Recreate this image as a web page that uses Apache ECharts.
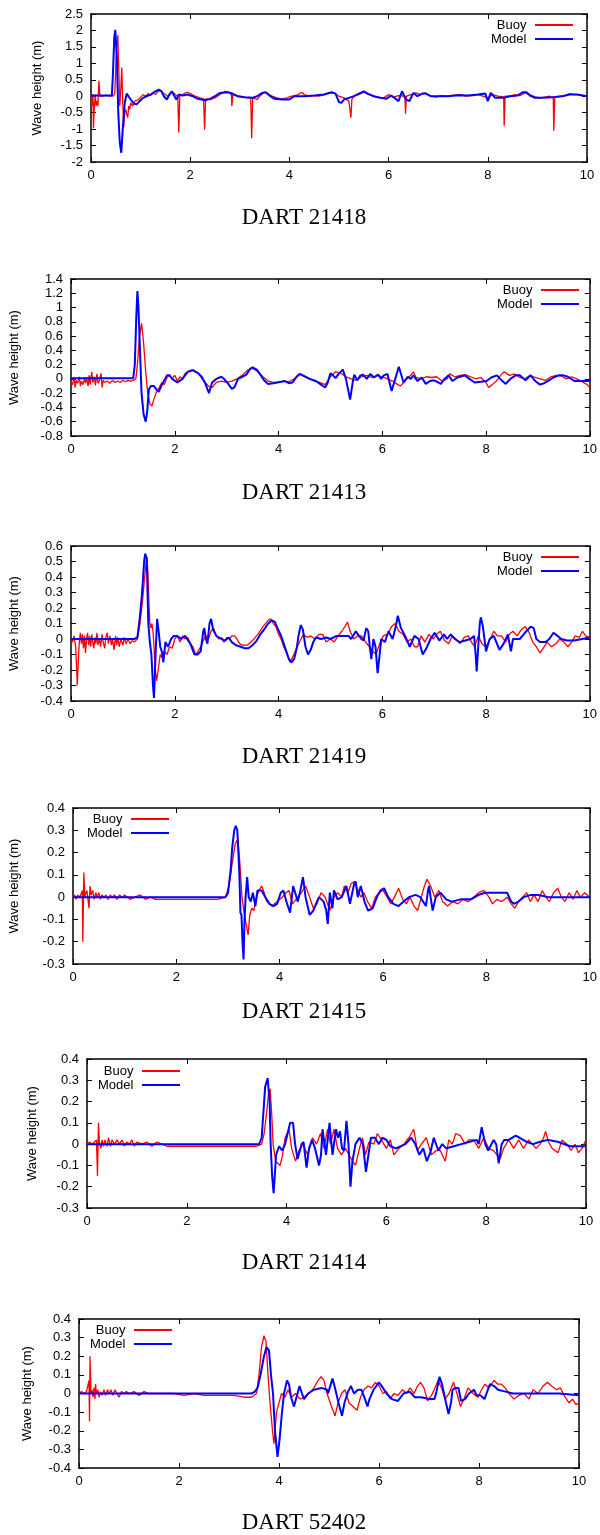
<!DOCTYPE html>
<html><head><meta charset="utf-8">
<script src="https://cdn.jsdelivr.net/npm/echarts@6/dist/echarts.min.js"></script>
<style>html,body{margin:0;padding:0;background:#fff}#c{width:600px;height:1535px}</style>
</head><body><div id="c"></div>
<script>
// ---------------- DATA (hours, wave height in m) ----------------
const panelTitles = ['DART 21418','DART 21413','DART 21419','DART 21415','DART 21414','DART 52402'];
const seriesNames = ['Buoy','Model'];
const xTickValues = [0,2,4,6,8,10];
// y axis: [min, max, interval]
const yRanges = [[-2,2.5,0.5],[-0.8,1.4,0.2],[-0.4,0.6,0.1],[-0.3,0.4,0.1],[-0.3,0.4,0.1],[-0.4,0.4,0.1]];

const buoy21418 = [[0,0.05],[0.02,-0.3],[0.04,0.05],[0.05,-0.97],[0.07,-0.2],[0.09,0.05],[0.1,-0.3],[0.12,-0.15],[0.14,-0.3],[0.16,0.47],[0.18,0.0],[0.2,0.05],[0.25,0.0],[0.3,0.03],[0.35,0.0],[0.4,0.02],[0.45,0.0],[0.48,0.1],[0.5,0.9],[0.52,1.6],[0.54,1.85],[0.56,0.8],[0.58,-0.3],[0.6,0.2],[0.62,0.87],[0.64,-0.2],[0.66,-0.93],[0.68,-0.5],[0.7,-0.4],[0.72,-0.55],[0.74,-0.65],[0.76,-0.3],[0.78,-0.4],[0.8,-0.2],[0.84,-0.3],[0.88,-0.15],[0.92,-0.2],[0.96,-0.1],[1.0,-0.05],[1.05,0.05],[1.1,0.0],[1.15,0.08],[1.2,0.02],[1.25,0.1],[1.3,0.05],[1.35,0.15],[1.4,0.18],[1.45,0.1],[1.5,0.05],[1.55,0.0],[1.6,0.1],[1.65,0.12],[1.7,0.05],[1.75,0.0],[1.77,-1.1],[1.79,0.0],[1.85,0.05],[1.9,0.1],[1.95,0.12],[2.0,0.08],[2.1,0.0],[2.2,-0.05],[2.27,-0.08],[2.29,-1.02],[2.31,-0.08],[2.4,-0.1],[2.5,-0.05],[2.6,0.05],[2.7,0.15],[2.78,0.12],[2.83,0.05],[2.84,-0.3],[2.86,0.05],[2.95,0.02],[3.05,-0.02],[3.15,-0.05],[3.22,-0.05],[3.24,-1.28],[3.26,-0.05],[3.3,-0.05],[3.35,-0.1],[3.4,0.0],[3.5,0.12],[3.55,0.1],[3.65,0.0],[3.75,-0.05],[3.85,-0.08],[3.95,-0.05],[4.05,0.0],[4.15,0.03],[4.25,0.12],[4.3,0.05],[4.4,0.0],[4.5,0.02],[4.6,0.0],[4.7,0.05],[4.8,0.1],[4.9,0.1],[5.0,0.0],[5.1,-0.05],[5.2,-0.15],[5.23,-0.2],[5.24,-0.65],[5.26,-0.1],[5.3,0.0],[5.4,0.05],[5.5,0.12],[5.6,0.05],[5.7,0.0],[5.8,-0.05],[5.9,-0.05],[6.0,0.05],[6.1,-0.03],[6.2,0.02],[6.33,0.0],[6.34,-0.53],[6.36,0.0],[6.45,0.05],[6.55,0.1],[6.65,0.05],[6.75,0.1],[6.85,0.0],[6.95,-0.03],[7.05,0.02],[7.2,0.0],[7.3,0.03],[7.45,0.05],[7.55,0.0],[7.7,0.02],[7.8,0.05],[7.9,0.0],[8.0,-0.05],[8.1,0.05],[8.2,0.0],[8.32,-0.02],[8.33,-0.9],[8.35,0.0],[8.45,0.0],[8.55,0.05],[8.65,0.02],[8.75,0.1],[8.85,0.05],[8.95,-0.02],[9.05,-0.05],[9.15,-0.03],[9.25,0.0],[9.32,-0.05],[9.33,-1.05],[9.35,-0.05],[9.45,0.0],[9.55,0.02],[9.65,0.08],[9.75,0.05],[9.85,0.05],[9.95,0.0],[10,0.02]];
const model21418 = [[0,0.02],[0.42,0.02],[0.44,0.6],[0.47,1.8],[0.49,2.02],[0.52,1.2],[0.55,-0.5],[0.58,-1.4],[0.61,-1.72],[0.64,-1.0],[0.68,-0.2],[0.72,0.08],[0.75,0.08],[0.8,-0.1],[0.86,-0.22],[0.92,-0.25],[0.98,-0.15],[1.05,-0.05],[1.12,0.0],[1.2,0.05],[1.3,0.15],[1.37,0.2],[1.42,0.15],[1.47,0.0],[1.53,-0.1],[1.58,0.05],[1.63,0.15],[1.67,0.12],[1.72,-0.1],[1.77,0.05],[1.85,0.02],[1.95,0.05],[2.05,0.0],[2.15,-0.08],[2.3,-0.12],[2.4,-0.08],[2.5,0.0],[2.6,0.1],[2.75,0.12],[2.85,0.08],[2.95,0.0],[3.1,-0.03],[3.25,-0.05],[3.35,0.0],[3.45,0.1],[3.52,0.12],[3.6,0.02],[3.7,-0.08],[3.85,-0.1],[4.0,-0.1],[4.1,0.0],[4.3,0.0],[4.5,0.02],[4.7,0.05],[4.85,0.12],[4.93,0.08],[5.0,-0.18],[5.05,-0.2],[5.1,-0.1],[5.2,-0.05],[5.3,0.0],[5.4,0.08],[5.5,0.15],[5.58,0.08],[5.7,0.0],[5.85,-0.05],[5.95,-0.08],[6.05,0.02],[6.12,-0.05],[6.2,-0.15],[6.27,0.15],[6.3,0.15],[6.35,-0.1],[6.42,-0.15],[6.5,0.1],[6.58,0.0],[6.68,0.08],[6.75,0.08],[6.85,0.0],[7.0,0.0],[7.2,0.0],[7.4,0.03],[7.6,0.02],[7.8,0.05],[7.95,0.08],[8.0,-0.15],[8.03,-0.15],[8.06,0.1],[8.1,0.1],[8.15,-0.05],[8.3,-0.05],[8.45,0.0],[8.6,0.02],[8.7,0.12],[8.78,0.12],[8.85,0.02],[8.95,-0.05],[9.1,-0.05],[9.3,-0.03],[9.5,0.0],[9.65,0.05],[9.8,0.05],[10,0.0]];

const buoy21413 = [[0,-0.03],[0.03,-0.08],[0.06,0.02],[0.08,-0.12],[0.1,-0.02],[0.13,-0.06],[0.16,0.03],[0.18,-0.1],[0.2,-0.03],[0.23,-0.08],[0.26,0.0],[0.28,-0.06],[0.3,0.02],[0.33,-0.1],[0.35,0.05],[0.37,-0.08],[0.4,0.1],[0.42,-0.05],[0.45,0.03],[0.47,-0.09],[0.5,0.07],[0.52,-0.06],[0.55,-0.02],[0.58,0.08],[0.6,-0.12],[0.62,-0.02],[0.65,-0.05],[0.7,-0.03],[0.75,-0.06],[0.8,-0.02],[0.85,-0.05],[0.9,-0.03],[0.95,-0.05],[1.0,-0.02],[1.05,-0.04],[1.1,-0.02],[1.15,-0.03],[1.2,-0.02],[1.25,0.0],[1.28,0.2],[1.32,0.6],[1.36,0.78],[1.4,0.5],[1.44,0.1],[1.48,-0.2],[1.52,-0.35],[1.56,-0.38],[1.6,-0.28],[1.65,-0.18],[1.7,-0.12],[1.75,-0.05],[1.8,-0.08],[1.85,0.02],[1.9,0.05],[1.95,0.0],[2.0,0.05],[2.05,-0.03],[2.1,0.03],[2.15,0.0],[2.2,0.08],[2.3,0.12],[2.35,0.13],[2.45,0.08],[2.55,-0.02],[2.65,-0.1],[2.72,-0.12],[2.8,-0.05],[2.9,-0.03],[3.0,-0.05],[3.1,-0.03],[3.2,0.0],[3.3,0.05],[3.4,0.12],[3.5,0.15],[3.6,0.1],[3.7,0.03],[3.8,-0.03],[3.9,-0.05],[4.0,-0.05],[4.1,-0.03],[4.2,-0.04],[4.3,0.0],[4.4,0.07],[4.5,0.03],[4.6,0.0],[4.7,-0.03],[4.8,-0.05],[4.9,-0.08],[5.0,0.03],[5.1,0.1],[5.2,0.08],[5.3,0.03],[5.4,0.0],[5.5,-0.02],[5.6,0.03],[5.7,0.05],[5.8,0.02],[5.9,0.05],[6.0,0.03],[6.1,0.0],[6.2,-0.03],[6.3,-0.08],[6.35,-0.1],[6.45,-0.02],[6.55,0.05],[6.6,0.1],[6.65,0.02],[6.75,0.0],[6.85,0.03],[6.95,0.02],[7.05,0.03],[7.15,-0.03],[7.25,0.0],[7.3,0.07],[7.4,0.03],[7.5,0.05],[7.6,0.06],[7.7,0.03],[7.8,0.0],[7.9,0.02],[8.0,-0.05],[8.05,-0.12],[8.12,-0.08],[8.2,-0.03],[8.28,0.05],[8.35,0.1],[8.45,0.05],[8.55,0.07],[8.65,0.02],[8.75,0.0],[8.85,0.05],[8.95,0.02],[9.05,0.0],[9.15,-0.02],[9.25,0.03],[9.35,0.05],[9.45,0.04],[9.55,0.0],[9.65,0.03],[9.75,0.0],[9.85,-0.04],[9.95,-0.08],[10,-0.12]];
const model21413 = [[0,0.01],[1.2,0.01],[1.23,0.2],[1.26,0.9],[1.28,1.23],[1.3,1.0],[1.33,0.4],[1.36,-0.2],[1.4,-0.5],[1.44,-0.6],[1.47,-0.45],[1.5,-0.15],[1.54,-0.1],[1.6,-0.1],[1.65,-0.15],[1.69,-0.18],[1.74,-0.1],[1.8,-0.02],[1.85,0.05],[1.9,0.05],[1.95,0.0],[2.05,-0.05],[2.15,0.0],[2.25,0.1],[2.35,0.12],[2.45,0.08],[2.52,0.03],[2.58,-0.05],[2.66,-0.2],[2.72,-0.05],[2.8,0.0],[2.9,0.03],[2.95,0.0],[3.02,-0.06],[3.1,-0.14],[3.15,-0.12],[3.22,0.0],[3.3,0.03],[3.38,0.06],[3.45,0.14],[3.5,0.16],[3.58,0.13],[3.65,0.06],[3.72,-0.02],[3.8,-0.07],[3.9,-0.06],[3.97,-0.05],[4.05,-0.04],[4.12,-0.03],[4.2,-0.06],[4.27,-0.05],[4.35,0.03],[4.41,0.07],[4.5,0.04],[4.6,0.0],[4.72,-0.03],[4.82,-0.08],[4.9,-0.12],[4.95,-0.05],[5.0,0.08],[5.05,0.05],[5.1,0.01],[5.17,0.08],[5.24,0.13],[5.3,0.0],[5.38,-0.29],[5.43,-0.05],[5.46,0.06],[5.52,-0.02],[5.58,0.05],[5.63,0.06],[5.7,0.0],[5.77,0.07],[5.84,0.02],[5.92,0.06],[5.98,0.0],[6.03,0.05],[6.1,0.07],[6.18,-0.17],[6.25,0.0],[6.32,0.17],[6.41,-0.05],[6.49,0.03],[6.55,0.0],[6.6,0.05],[6.68,-0.03],[6.76,0.02],[6.84,-0.07],[6.92,-0.03],[6.99,-0.02],[7.06,-0.04],[7.13,-0.07],[7.2,0.0],[7.28,0.05],[7.35,-0.03],[7.45,0.02],[7.59,0.05],[7.68,0.0],[7.78,-0.05],[7.9,-0.04],[8.01,-0.03],[8.1,0.02],[8.21,0.05],[8.3,-0.02],[8.38,-0.07],[8.47,0.0],[8.57,0.05],[8.65,0.05],[8.76,-0.02],[8.86,0.05],[8.95,-0.03],[9.04,-0.08],[9.12,-0.06],[9.19,-0.03],[9.3,0.02],[9.4,0.05],[9.49,0.05],[9.58,0.03],[9.71,-0.03],[9.85,-0.03],[10,-0.03]];

const buoy21419 = [[0,0.0],[0.03,-0.02],[0.06,0.02],[0.09,-0.05],[0.11,-0.2],[0.12,-0.3],[0.14,-0.15],[0.16,-0.02],[0.18,0.04],[0.2,-0.03],[0.22,0.03],[0.24,-0.06],[0.26,0.02],[0.28,-0.09],[0.3,0.0],[0.32,0.04],[0.34,-0.04],[0.36,0.02],[0.38,-0.05],[0.4,0.03],[0.42,-0.02],[0.44,-0.06],[0.46,0.01],[0.48,-0.03],[0.5,0.04],[0.52,-0.04],[0.55,0.0],[0.57,-0.05],[0.6,0.03],[0.62,-0.02],[0.65,-0.06],[0.67,0.01],[0.7,0.04],[0.72,-0.03],[0.75,0.02],[0.78,-0.04],[0.8,0.0],[0.83,-0.07],[0.86,0.02],[0.88,-0.04],[0.9,0.01],[0.93,-0.05],[0.96,0.0],[1.0,-0.04],[1.03,0.01],[1.06,-0.03],[1.1,0.0],[1.14,-0.03],[1.18,-0.01],[1.22,-0.02],[1.28,0.0],[1.33,0.1],[1.38,0.25],[1.42,0.4],[1.46,0.53],[1.48,0.45],[1.5,0.25],[1.52,0.1],[1.54,0.07],[1.56,0.1],[1.58,0.05],[1.6,-0.05],[1.62,-0.18],[1.65,-0.27],[1.68,-0.2],[1.72,-0.1],[1.76,-0.12],[1.8,-0.08],[1.85,-0.1],[1.9,-0.05],[1.95,-0.06],[2.0,0.0],[2.05,0.02],[2.1,-0.02],[2.15,0.02],[2.2,0.0],[2.25,0.01],[2.3,-0.03],[2.35,-0.05],[2.4,-0.1],[2.45,-0.08],[2.5,-0.05],[2.55,-0.01],[2.6,0.02],[2.65,0.0],[2.7,0.05],[2.75,0.07],[2.8,0.02],[2.85,0.0],[2.9,0.01],[2.95,-0.02],[3.0,0.01],[3.05,0.0],[3.1,0.02],[3.15,0.02],[3.2,0.0],[3.25,-0.03],[3.3,-0.04],[3.4,-0.04],[3.5,-0.01],[3.6,0.03],[3.7,0.08],[3.8,0.12],[3.85,0.13],[3.9,0.1],[3.95,0.08],[4.0,0.03],[4.05,0.0],[4.1,-0.05],[4.17,-0.1],[4.22,-0.15],[4.27,-0.12],[4.35,-0.06],[4.42,-0.01],[4.48,0.03],[4.55,0.01],[4.62,0.02],[4.7,0.0],[4.78,0.03],[4.85,0.03],[4.92,-0.02],[5.0,0.0],[5.07,-0.02],[5.15,0.02],[5.22,0.05],[5.28,0.08],[5.33,0.11],[5.38,0.05],[5.45,0.0],[5.52,0.02],[5.6,0.02],[5.68,-0.02],[5.75,-0.05],[5.82,-0.08],[5.88,-0.1],[5.95,-0.03],[6.02,0.02],[6.1,0.03],[6.18,0.08],[6.25,0.1],[6.32,0.05],[6.4,0.03],[6.48,-0.02],[6.55,0.0],[6.62,-0.05],[6.68,-0.05],[6.75,0.02],[6.82,-0.02],[6.9,0.03],[6.98,0.0],[7.05,0.03],[7.12,0.05],[7.2,-0.01],[7.28,-0.03],[7.35,0.02],[7.42,0.0],[7.5,-0.03],[7.58,0.01],[7.66,0.02],[7.72,-0.02],[7.78,-0.05],[7.85,0.02],[7.92,-0.03],[8.0,-0.05],[8.08,0.0],[8.15,0.05],[8.22,0.02],[8.3,0.02],[8.38,-0.02],[8.45,0.03],[8.52,0.05],[8.6,0.02],[8.68,0.06],[8.75,0.08],[8.82,0.05],[8.9,-0.02],[8.97,-0.05],[9.04,-0.09],[9.1,-0.06],[9.18,-0.02],[9.26,-0.05],[9.35,-0.03],[9.42,0.0],[9.5,-0.02],[9.58,-0.05],[9.65,-0.02],[9.72,0.02],[9.8,0.01],[9.86,0.05],[9.92,0.02],[10,0.01]];
const model21419 = [[0,0.0],[1.22,0.0],[1.28,0.01],[1.33,0.15],[1.37,0.3],[1.41,0.5],[1.43,0.55],[1.46,0.52],[1.49,0.1],[1.52,-0.02],[1.55,-0.1],[1.58,-0.3],[1.6,-0.38],[1.63,-0.1],[1.66,0.13],[1.69,0.05],[1.72,-0.05],[1.75,-0.08],[1.78,-0.15],[1.82,-0.02],[1.87,-0.05],[1.93,0.0],[1.98,0.02],[2.05,0.02],[2.12,0.0],[2.2,0.02],[2.3,-0.03],[2.38,-0.1],[2.44,-0.1],[2.5,-0.08],[2.55,0.05],[2.57,0.07],[2.6,0.0],[2.63,-0.03],[2.67,0.1],[2.7,0.13],[2.74,0.06],[2.8,0.02],[2.9,0.0],[2.97,-0.01],[3.04,0.01],[3.1,-0.02],[3.18,-0.04],[3.27,-0.05],[3.35,-0.06],[3.42,-0.06],[3.5,-0.04],[3.58,-0.01],[3.65,0.03],[3.72,0.06],[3.8,0.1],[3.87,0.12],[3.93,0.11],[3.98,0.07],[4.05,0.02],[4.1,-0.03],[4.15,-0.08],[4.2,-0.13],[4.25,-0.15],[4.3,-0.13],[4.35,-0.06],[4.39,0.03],[4.43,0.09],[4.47,0.06],[4.52,-0.05],[4.57,-0.1],[4.62,-0.07],[4.67,-0.02],[4.72,0.01],[4.82,0.0],[4.92,0.01],[5.0,0.0],[5.12,0.02],[5.25,0.02],[5.35,0.02],[5.4,0.0],[5.49,0.05],[5.55,0.02],[5.6,0.0],[5.64,-0.01],[5.69,0.07],[5.73,0.05],[5.76,-0.05],[5.79,-0.13],[5.83,0.0],[5.87,-0.05],[5.91,-0.22],[5.95,-0.1],[5.98,0.0],[6.05,-0.02],[6.12,0.05],[6.2,0.0],[6.26,0.08],[6.3,0.15],[6.36,0.07],[6.44,0.02],[6.53,-0.05],[6.62,0.02],[6.7,0.0],[6.78,-0.1],[6.85,-0.06],[6.93,0.0],[7.01,0.04],[7.1,-0.01],[7.19,0.03],[7.25,0.0],[7.32,0.03],[7.4,0.0],[7.49,-0.02],[7.6,-0.01],[7.7,0.0],[7.77,0.02],[7.8,-0.1],[7.82,-0.21],[7.85,-0.05],[7.88,0.1],[7.9,0.14],[7.94,0.08],[8.0,-0.08],[8.07,0.0],[8.15,0.02],[8.26,-0.07],[8.34,-0.03],[8.42,0.03],[8.48,-0.08],[8.52,0.0],[8.65,0.0],[8.75,0.04],[8.86,0.08],[8.92,0.07],[8.97,0.0],[9.04,-0.02],[9.15,-0.02],[9.22,0.0],[9.3,0.04],[9.38,0.02],[9.45,0.0],[9.56,-0.01],[9.7,-0.01],[9.85,0.0],[10,0.01]];

const buoy21415 = [[0,0.0],[0.03,0.01],[0.06,-0.01],[0.09,0.01],[0.12,0.0],[0.15,0.01],[0.18,0.03],[0.19,-0.2],[0.21,0.11],[0.23,0.0],[0.25,0.02],[0.27,0.03],[0.29,-0.01],[0.31,-0.05],[0.33,0.05],[0.35,0.01],[0.38,0.03],[0.41,-0.01],[0.44,0.02],[0.47,0.0],[0.5,0.02],[0.53,-0.01],[0.56,0.01],[0.6,0.0],[0.64,0.01],[0.68,-0.01],[0.72,0.01],[0.76,0.0],[0.8,0.01],[0.85,-0.01],[0.9,0.01],[0.95,0.0],[1.0,0.01],[1.1,-0.01],[1.2,0.0],[1.3,0.01],[1.4,-0.01],[1.5,0.0],[1.6,-0.01],[1.8,-0.01],[2.0,-0.01],[2.2,-0.01],[2.4,-0.01],[2.6,-0.01],[2.8,-0.01],[2.95,0.0],[3.02,0.05],[3.08,0.15],[3.14,0.24],[3.19,0.26],[3.23,0.15],[3.27,0.0],[3.31,-0.07],[3.35,-0.12],[3.39,-0.17],[3.42,-0.08],[3.46,-0.05],[3.5,-0.06],[3.55,0.0],[3.6,0.03],[3.65,0.05],[3.7,0.02],[3.75,-0.02],[3.85,-0.04],[3.95,-0.02],[4.05,0.0],[4.12,0.02],[4.18,0.03],[4.25,-0.03],[4.35,0.0],[4.42,0.02],[4.5,0.05],[4.58,0.0],[4.65,-0.05],[4.72,-0.03],[4.8,0.02],[4.88,0.0],[4.97,-0.06],[5.05,0.0],[5.12,0.02],[5.2,0.0],[5.25,0.05],[5.32,0.02],[5.38,0.06],[5.44,0.07],[5.5,0.04],[5.57,0.0],[5.63,0.02],[5.7,-0.02],[5.78,-0.05],[5.85,0.0],[5.92,0.02],[6.0,0.03],[6.08,0.0],[6.15,-0.03],[6.22,0.0],[6.3,0.04],[6.38,-0.01],[6.45,-0.03],[6.52,0.0],[6.6,-0.04],[6.67,-0.06],[6.74,0.0],[6.8,0.05],[6.85,0.08],[6.92,0.05],[7.0,0.0],[7.08,0.03],[7.15,-0.02],[7.25,-0.04],[7.35,-0.02],[7.45,-0.03],[7.55,-0.01],[7.65,-0.02],[7.75,0.0],[7.85,0.02],[7.95,0.03],[8.05,0.0],[8.12,-0.03],[8.2,-0.01],[8.3,-0.02],[8.4,0.0],[8.48,-0.03],[8.55,-0.05],[8.62,-0.02],[8.7,0.0],[8.78,0.02],[8.85,-0.02],[8.92,0.01],[9.0,-0.02],[9.08,0.03],[9.15,0.0],[9.22,-0.02],[9.3,0.02],[9.38,0.04],[9.45,0.0],[9.52,-0.02],[9.6,0.02],[9.68,-0.01],[9.75,0.03],[9.82,0.0],[9.9,0.02],[10,0.0]];
const model21415 = [[0,0.0],[2.95,0.0],[3.0,0.02],[3.05,0.12],[3.08,0.22],[3.12,0.3],[3.15,0.32],[3.18,0.3],[3.2,0.2],[3.22,0.1],[3.24,-0.07],[3.26,-0.08],[3.28,-0.2],[3.3,-0.28],[3.32,-0.1],[3.34,0.0],[3.37,0.09],[3.4,0.0],[3.44,-0.02],[3.48,0.02],[3.53,-0.04],[3.57,0.03],[3.65,0.03],[3.72,0.0],[3.8,-0.03],[3.88,-0.04],[3.95,-0.03],[4.02,0.02],[4.07,0.03],[4.13,-0.02],[4.2,-0.07],[4.26,0.05],[4.3,0.02],[4.35,-0.02],[4.4,0.03],[4.45,0.09],[4.5,0.0],[4.58,-0.08],[4.65,-0.06],[4.72,-0.02],[4.76,0.0],[4.85,-0.02],[4.9,-0.06],[4.93,-0.12],[4.97,0.02],[5.02,-0.05],[5.05,0.03],[5.12,-0.01],[5.2,0.0],[5.29,0.05],[5.36,-0.03],[5.44,0.06],[5.47,0.07],[5.51,0.0],[5.57,0.05],[5.64,-0.02],[5.71,-0.06],[5.8,-0.05],[5.88,0.0],[5.95,0.03],[6.02,0.04],[6.1,0.0],[6.2,-0.03],[6.3,-0.04],[6.4,-0.02],[6.5,0.0],[6.63,0.01],[6.72,0.0],[6.83,-0.04],[6.87,0.03],[6.89,0.05],[6.92,0.0],[6.96,-0.06],[7.02,0.0],[7.11,0.02],[7.22,-0.01],[7.33,-0.02],[7.5,-0.01],[7.7,-0.01],[7.85,0.01],[7.97,0.02],[8.15,0.02],[8.3,0.02],[8.4,0.02],[8.48,-0.02],[8.53,-0.03],[8.62,-0.02],[8.72,0.0],[8.86,0.01],[9.0,0.01],[9.2,0.0],[9.5,0.0],[10,0.0]];

const buoy21414 = [[0,0.0],[0.05,0.01],[0.1,0.0],[0.15,0.01],[0.19,0.02],[0.21,-0.15],[0.23,0.1],[0.25,0.0],[0.28,-0.02],[0.3,0.02],[0.33,-0.01],[0.36,0.02],[0.4,-0.01],[0.43,0.03],[0.47,-0.01],[0.5,0.02],[0.55,0.0],[0.6,0.02],[0.65,0.0],[0.7,0.02],[0.75,-0.01],[0.8,0.01],[0.85,0.0],[0.9,0.02],[0.95,-0.01],[1.0,0.01],[1.1,0.0],[1.2,0.01],[1.3,-0.01],[1.4,0.01],[1.5,0.0],[1.6,-0.01],[1.8,-0.01],[2.0,-0.01],[2.2,-0.01],[2.4,-0.01],[2.6,-0.01],[2.8,-0.01],[3.0,-0.01],[3.2,-0.01],[3.4,-0.01],[3.5,0.0],[3.55,0.05],[3.6,0.15],[3.64,0.24],[3.67,0.26],[3.7,0.15],[3.73,0.0],[3.78,-0.08],[3.82,-0.08],[3.87,-0.1],[3.92,-0.05],[3.97,0.03],[4.05,0.07],[4.1,-0.02],[4.18,-0.08],[4.25,-0.03],[4.33,0.0],[4.42,-0.05],[4.52,0.03],[4.6,0.0],[4.68,0.05],[4.75,-0.02],[4.82,0.07],[4.88,0.0],[4.95,0.07],[5.02,-0.02],[5.1,-0.05],[5.18,-0.02],[5.25,-0.05],[5.32,-0.08],[5.38,-0.1],[5.45,-0.03],[5.52,0.03],[5.58,-0.05],[5.65,0.01],[5.75,0.0],[5.82,0.05],[5.9,0.02],[6.0,-0.02],[6.08,0.02],[6.15,-0.05],[6.25,-0.02],[6.35,0.0],[6.45,0.03],[6.55,0.07],[6.62,-0.03],[6.7,0.0],[6.8,0.03],[6.9,-0.05],[7.0,-0.03],[7.08,-0.03],[7.18,-0.08],[7.25,0.02],[7.32,0.0],[7.39,0.05],[7.48,0.04],[7.58,0.0],[7.65,0.02],[7.75,0.02],[7.85,-0.02],[7.95,0.03],[8.05,-0.02],[8.15,-0.03],[8.28,-0.07],[8.35,-0.02],[8.45,0.02],[8.55,-0.02],[8.65,0.02],[8.75,-0.02],[8.85,0.02],[9.0,-0.02],[9.08,0.0],[9.15,0.03],[9.19,0.06],[9.25,0.01],[9.32,-0.02],[9.44,-0.04],[9.52,0.02],[9.62,0.0],[9.7,-0.03],[9.78,0.0],[9.85,-0.04],[9.92,-0.02],[10,0.02]];
const model21414 = [[0,0.0],[3.45,0.0],[3.5,0.03],[3.55,0.2],[3.57,0.27],[3.62,0.31],[3.66,0.2],[3.68,0.0],[3.71,-0.15],[3.74,-0.23],[3.79,-0.05],[3.85,-0.01],[3.91,-0.03],[3.97,0.0],[4.02,0.05],[4.07,0.1],[4.13,0.1],[4.17,0.0],[4.22,-0.07],[4.3,0.0],[4.34,0.01],[4.4,-0.11],[4.45,-0.02],[4.51,0.02],[4.57,-0.02],[4.65,-0.1],[4.69,-0.05],[4.72,0.07],[4.76,0.0],[4.79,-0.05],[4.86,0.1],[4.92,-0.05],[4.99,0.07],[5.03,0.03],[5.07,0.06],[5.11,-0.02],[5.15,-0.03],[5.2,0.11],[5.24,0.0],[5.28,-0.2],[5.32,-0.08],[5.38,0.0],[5.46,0.03],[5.53,0.0],[5.59,-0.13],[5.64,-0.05],[5.69,0.03],[5.77,0.03],[5.85,0.0],[5.92,0.03],[6.0,0.02],[6.08,-0.01],[6.19,-0.02],[6.38,0.0],[6.5,0.03],[6.58,0.0],[6.66,-0.05],[6.74,-0.02],[6.81,-0.08],[6.88,-0.04],[6.95,0.03],[7.04,-0.03],[7.12,0.0],[7.2,-0.02],[7.35,-0.01],[7.5,0.0],[7.65,0.01],[7.81,0.02],[7.85,0.0],[7.91,0.08],[7.98,0.0],[8.04,-0.03],[8.15,0.02],[8.2,0.0],[8.25,-0.09],[8.31,0.0],[8.36,0.02],[8.45,0.02],[8.59,0.04],[8.67,0.03],[8.82,0.01],[8.94,0.0],[9.06,0.01],[9.24,0.02],[9.45,0.01],[9.68,-0.01],[10,-0.01]];

const buoy52402 = [[0,0.0],[0.05,0.01],[0.1,0.0],[0.15,0.01],[0.19,0.0],[0.2,0.07],[0.21,-0.15],[0.22,0.2],[0.24,0.0],[0.26,0.02],[0.28,-0.02],[0.3,0.03],[0.32,-0.03],[0.33,0.05],[0.35,0.0],[0.38,0.02],[0.4,-0.02],[0.43,0.01],[0.46,-0.01],[0.5,0.02],[0.53,-0.01],[0.57,0.02],[0.6,0.0],[0.64,0.02],[0.68,-0.01],[0.72,0.02],[0.76,0.0],[0.8,-0.02],[0.85,0.01],[0.9,0.0],[0.95,0.01],[1.0,0.0],[1.1,0.01],[1.2,-0.01],[1.3,0.01],[1.4,0.0],[1.5,0.0],[1.7,0.0],[1.9,0.0],[2.1,-0.01],[2.3,0.0],[2.5,-0.01],[2.7,-0.01],[2.9,-0.01],[3.1,-0.01],[3.3,-0.02],[3.45,-0.02],[3.55,0.0],[3.6,0.1],[3.65,0.25],[3.7,0.31],[3.74,0.28],[3.78,0.1],[3.82,-0.05],[3.87,-0.2],[3.9,-0.27],[3.95,-0.1],[4.0,-0.05],[4.05,0.0],[4.12,-0.02],[4.18,0.02],[4.25,-0.02],[4.33,0.0],[4.42,-0.03],[4.5,-0.02],[4.6,0.0],[4.7,0.03],[4.78,0.07],[4.84,0.09],[4.9,0.07],[4.96,0.0],[5.05,-0.07],[5.12,-0.12],[5.18,-0.05],[5.25,0.0],[5.32,0.02],[5.4,-0.05],[5.48,-0.07],[5.56,-0.09],[5.63,-0.02],[5.7,0.02],[5.78,0.04],[5.85,0.03],[5.93,0.06],[6.0,0.04],[6.08,0.0],[6.15,0.01],[6.22,-0.03],[6.3,0.0],[6.38,-0.01],[6.47,0.02],[6.55,0.0],[6.62,0.03],[6.7,0.0],[6.77,0.04],[6.83,0.06],[6.9,0.03],[6.97,-0.04],[7.05,-0.01],[7.12,0.03],[7.18,0.07],[7.25,0.03],[7.32,-0.03],[7.4,0.0],[7.49,0.06],[7.56,0.0],[7.63,-0.07],[7.7,-0.03],[7.78,0.03],[7.88,0.0],[7.98,-0.02],[8.05,0.02],[8.12,0.05],[8.2,0.03],[8.3,0.07],[8.38,0.05],[8.45,0.05],[8.52,0.03],[8.6,0.0],[8.7,-0.03],[8.8,-0.01],[8.9,0.0],[9.0,-0.03],[9.08,0.02],[9.18,0.0],[9.28,0.04],[9.37,0.06],[9.45,0.04],[9.55,0.02],[9.63,0.03],[9.7,-0.01],[9.8,-0.05],[9.87,-0.03],[9.94,-0.06],[10,-0.05]];
const model52402 = [[0,0.0],[3.45,0.0],[3.52,0.01],[3.57,0.03],[3.63,0.1],[3.7,0.2],[3.75,0.25],[3.8,0.23],[3.84,0.1],[3.88,0.0],[3.92,-0.2],[3.97,-0.34],[4.01,-0.25],[4.06,-0.1],[4.1,0.0],[4.16,0.07],[4.2,0.05],[4.24,-0.02],[4.3,-0.07],[4.35,-0.02],[4.41,0.04],[4.46,0.0],[4.5,-0.03],[4.58,0.0],[4.7,0.02],[4.85,0.03],[4.96,0.02],[4.98,0.0],[5.07,0.08],[5.12,0.03],[5.19,-0.05],[5.26,-0.12],[5.31,-0.05],[5.38,0.01],[5.44,0.04],[5.5,0.0],[5.58,0.02],[5.65,0.02],[5.72,-0.03],[5.77,-0.07],[5.81,-0.03],[5.89,0.02],[6.0,0.06],[6.08,0.03],[6.15,0.0],[6.26,-0.03],[6.38,-0.04],[6.49,0.0],[6.61,0.01],[6.72,-0.02],[6.84,-0.02],[7.0,-0.03],[7.11,-0.03],[7.15,0.01],[7.21,0.09],[7.26,0.05],[7.3,0.0],[7.34,-0.05],[7.39,-0.11],[7.44,-0.05],[7.47,0.02],[7.53,0.03],[7.59,0.03],[7.64,-0.04],[7.72,-0.03],[7.8,0.0],[7.9,0.02],[7.95,-0.01],[8.03,-0.01],[8.11,-0.03],[8.15,0.0],[8.22,0.05],[8.3,0.04],[8.38,0.02],[8.53,0.01],[8.68,0.0],[9.0,0.0],[9.3,0.0],[9.6,0.0],[10,-0.01]];

const buoyData = [buoy21418, buoy21413, buoy21419, buoy21415, buoy21414, buoy52402];
const modelData = [model21418, model21413, model21419, model21415, model21414, model52402];

// ---------------- LAYOUT ----------------
const layout = [
  {left:91, top:14,   width:496, height:148, nameGap:47, legRight:27,  legTop:18,   titleY:218},
  {left:69, top:279,  width:523, height:157, nameGap:50, legRight:21,  legTop:283,  titleY:493},
  {left:71, top:546,  width:521, height:155, nameGap:50, legRight:21,  legTop:550,  titleY:757},
  {left:73, top:808,  width:524, height:156, nameGap:52, legRight:431, legTop:812,  titleY:1012},
  {left:87, top:1059, width:499, height:149, nameGap:48, legRight:420, legTop:1064, titleY:1263},
  {left:79, top:1319, width:500, height:149, nameGap:45, legRight:428, legTop:1323, titleY:1523}
];
const colors = {Buoy:'#ff0000', Model:'#0000ff'};

const FONT = 'Liberation Sans, Arial, sans-serif';
const axisLineStyle = {color:'#000', width:1.5};
const grids = [], xAxes = [], yAxes = [], series = [], legends = [], titles = [];

layout.forEach((L, i) => {
  grids.push({left:L.left, top:L.top, width:L.width, height:L.height});
  const baseX = {gridIndex:i, type:'value', min:xTickValues[0], max:xTickValues[xTickValues.length-1], interval:xTickValues[1]-xTickValues[0],
    axisLine:{show:true, onZero:false, lineStyle:axisLineStyle},
    axisTick:{show:true, inside:true, length:5, lineStyle:{color:'#000', width:1}},
    splitLine:{show:false}};
  xAxes.push(Object.assign({}, baseX, {position:'bottom', axisLabel:{show:true, color:'#000', fontSize:13, fontFamily:FONT, margin:7}}));
  xAxes.push(Object.assign({}, baseX, {position:'top', axisLabel:{show:false}}));
  const [ymin, ymax, yint] = yRanges[i];
  const baseY = {gridIndex:i, type:'value', min:ymin, max:ymax, interval:yint,
    axisLine:{show:true, onZero:false, lineStyle:axisLineStyle},
    axisTick:{show:true, inside:true, length:5, lineStyle:{color:'#000', width:1}},
    splitLine:{show:false}};
  yAxes.push(Object.assign({}, baseY, {position:'left',
    axisLabel:{show:true, color:'#000', fontSize:13, fontFamily:FONT, margin:8},
    name:'Wave height (m)', nameLocation:'middle', nameRotate:90, nameGap:L.nameGap,
    nameTextStyle:{color:'#000', fontSize:13, fontFamily:FONT}}));
  yAxes.push(Object.assign({}, baseY, {position:'right', axisLabel:{show:false}}));

  series.push({type:'line', name:seriesNames[0], xAxisIndex:2*i, yAxisIndex:2*i, data:buoyData[i],
    symbol:'none', showSymbol:false, lineStyle:{color:colors.Buoy, width:1.3}, itemStyle:{color:colors.Buoy}, animation:false, z:2});
  series.push({type:'line', name:seriesNames[1], xAxisIndex:2*i, yAxisIndex:2*i, data:modelData[i],
    symbol:'none', showSymbol:false, lineStyle:{color:colors.Model, width:2}, itemStyle:{color:colors.Model}, animation:false, z:3});

  legends.push({
    data: seriesNames.map(n => ({name:n, icon:'rect', itemStyle:{color:colors[n]}})),
    orient:'vertical', align:'right', right:L.legRight, top:L.legTop,
    itemWidth:38, itemHeight:2, itemGap:0, padding:0, selectedMode:false, formatter:'{name} ',
    textStyle:{color:'#000', fontSize:13, fontFamily:FONT, lineHeight:14}});

  titles.push({text:panelTitles[i], left:304, textAlign:'center', top:L.titleY - 12, padding:0,
    textStyle:{fontFamily:'Liberation Serif, Times New Roman, serif', fontSize:23, fontWeight:'normal', color:'#000'}});
});

const chart = echarts.init(document.getElementById('c'), null, {renderer:'canvas'});
chart.setOption({
  animation:false,
  backgroundColor:'#fff',
  title:titles,
  legend:legends,
  grid:grids,
  xAxis:xAxes,
  yAxis:yAxes,
  series:series
});
</script>
</body></html>
